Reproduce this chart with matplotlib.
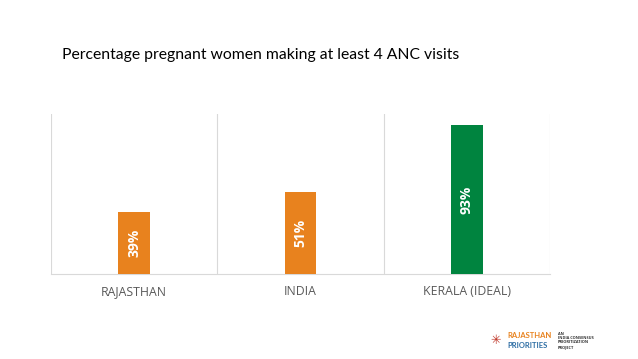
import matplotlib.pyplot as plt

categories = ["RAJASTHAN", "INDIA", "KERALA (IDEAL)"]
values = [39, 51, 93]
labels = ["39%", "51%", "93%"]
colors = ["#E8821E", "#E8821E", "#00843F"]

plt.rcParams['font.family'] = ['Open Sans', 'DejaVu Sans']

fig = plt.figure(figsize=(6.38, 3.59), dpi=100)
ax = fig.add_axes([0.080, 0.2368, 0.782, 0.4457])

x = list(range(len(categories)))
bars = ax.bar(x, values, width=0.19, color=colors, zorder=3)
for b, lab in zip(bars, labels):
    ax.text(b.get_x() + b.get_width() / 2, b.get_height() / 2, lab,
            rotation=90, ha='center', va='center', color='white',
            fontsize=10, fontweight='bold', zorder=4)

ax.set_xlim(-0.5, 2.5)
ax.set_ylim(0, 100)
ax.set_yticks([])
ax.set_xticks(x)
ax.set_xticklabels(categories, fontsize=8.8, color='#595959')
ax.tick_params(axis='x', length=0, pad=8)
for xv in [-0.5, 0.5, 1.5, 2.5]:
    ax.axvline(xv, color='#d9d9d9', lw=0.8, zorder=1)
for s in ['top', 'left', 'right']:
    ax.spines[s].set_visible(False)
ax.spines['bottom'].set_color('#d9d9d9')

fig.text(0.409, 0.847, "Percentage pregnant women making at least 4 ANC visits",
         ha='center', va='center', fontsize=11.3, color='black',
         family=['Lato', 'DejaVu Sans'])

# logo text
fig.text(0.796, 0.066, "RAJASTHAN", fontsize=5.5, fontweight='bold', color='#E8821E', va='center',
         family=['Lato', 'DejaVu Sans'])
fig.text(0.796, 0.038, "PRIORITIES", fontsize=5.5, fontweight='bold', color='#2B6CA3', va='center',
         family=['Lato', 'DejaVu Sans'])
fig.text(0.874, 0.052, "AN\nINDIA CONSENSUS\nPRIORITIZATION\nPROJECT", fontsize=2.8, fontweight='bold',
         color='#333333', va='center', linespacing=1.1)
fig.text(0.777, 0.052, "\u2733", fontsize=9, color='#C0392B', ha='center', va='center')

fig.savefig("out.png", dpi=100)
